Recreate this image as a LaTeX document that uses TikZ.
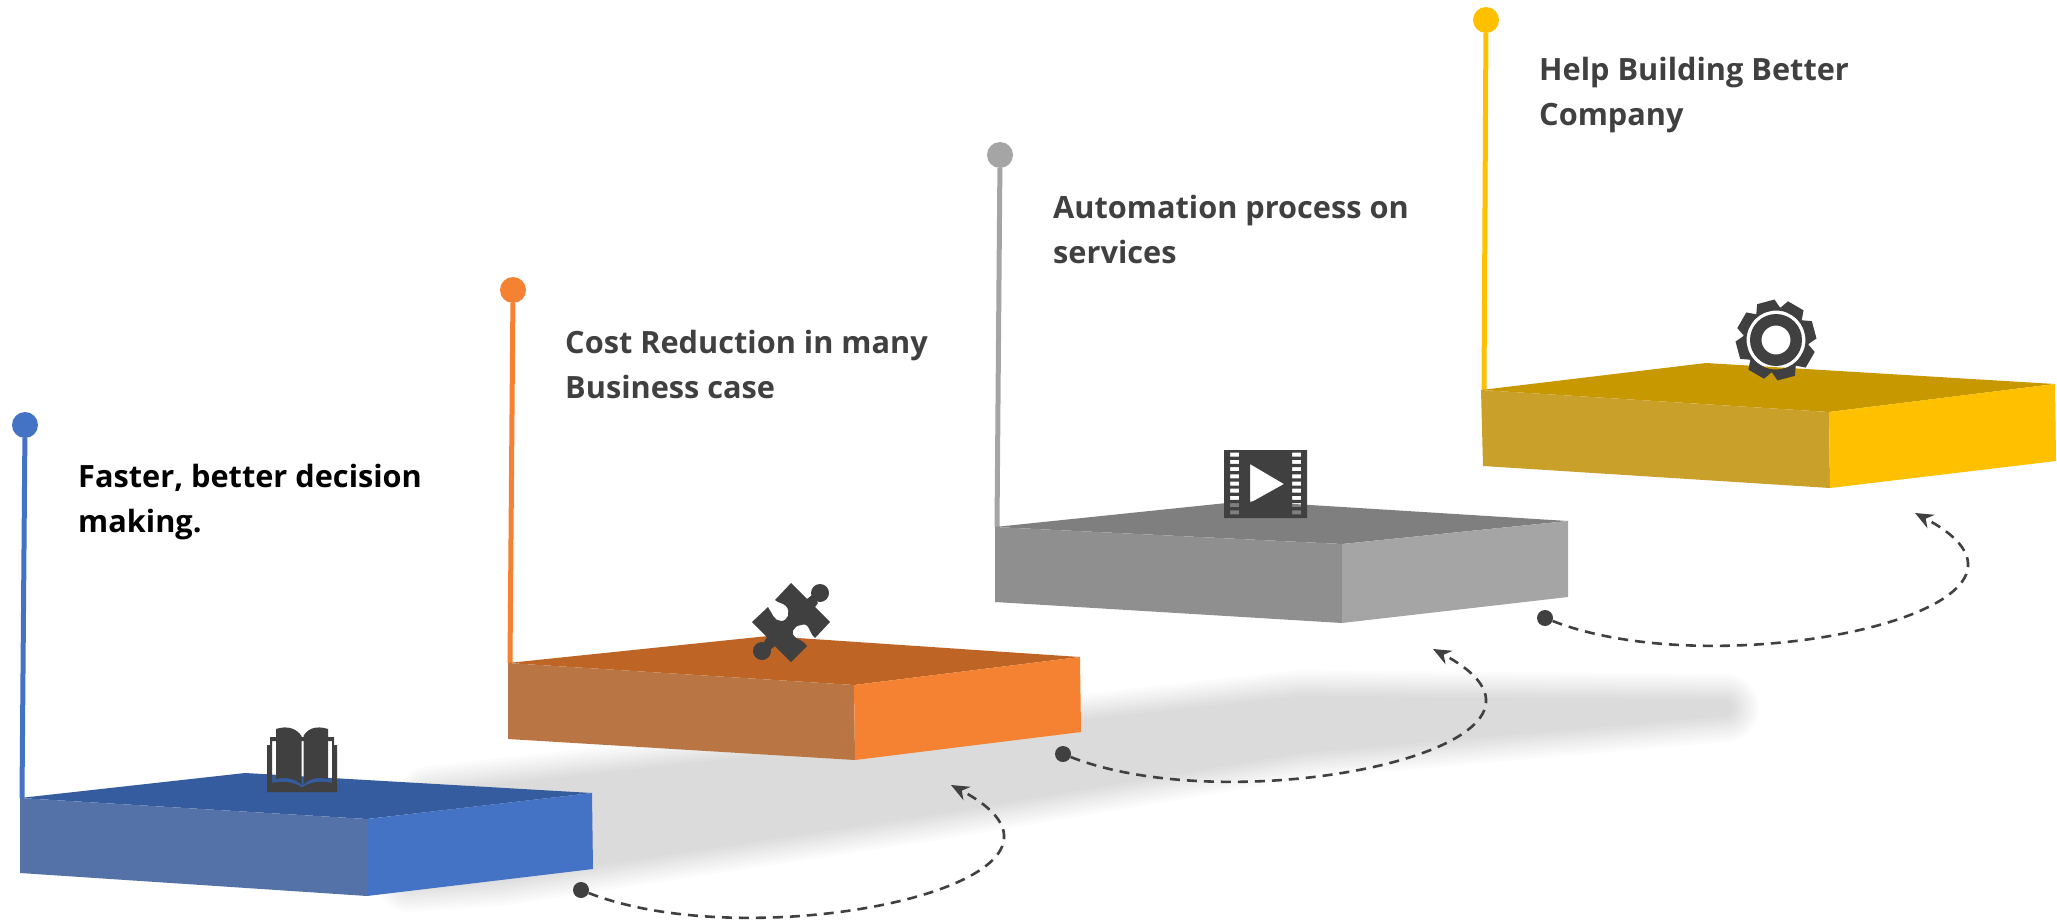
\documentclass[tikz,border=0pt]{standalone}
\usepackage{fontspec}
\setmainfont{Open Sans}
\usetikzlibrary{arrows.meta}
\definecolor{icondark}{HTML}{404040}
\definecolor{bluetop}{HTML}{355C9E}
\definecolor{blueleft}{HTML}{5572A8}
\definecolor{blueright}{HTML}{4472C4}
\definecolor{orangetop}{HTML}{BE6424}
\definecolor{orangeleft}{HTML}{B97544}
\definecolor{orangeright}{HTML}{F58232}
\definecolor{graytop}{HTML}{7F7F7F}
\definecolor{grayleft}{HTML}{8F8F8F}
\definecolor{grayright}{HTML}{A5A5A5}
\definecolor{yellowtop}{HTML}{C89800}
\definecolor{yellowleft}{HTML}{C8A02A}
\definecolor{yellowright}{HTML}{FFC000}
\tikzset{
  pin/.style={circle,fill=#1,minimum size=26pt,inner sep=0pt},
  stem/.style={draw=#1,line width=5pt},
  caption/.style={anchor=west,align=left,inner sep=0pt,text=icondark,
    font=\fontsize{30.7}{45}\selectfont\bfseries},
  startdot/.style={circle,fill=icondark,minimum size=16pt,inner sep=0pt},
  loopline/.style={draw=icondark,line width=2.6pt,dash pattern=on 10pt off 7pt,
    -{Stealth[length=18pt,width=15pt]}},
  icon/.style={fill=icondark,even odd rule}
}
\begin{document}
\begin{tikzpicture}[x=1pt,y=-1pt]
  \useasboundingbox (0,0) rectangle (2057,924);
  % shadow on the floor
  \foreach \s [evaluate=\s as \w using 72-4*\s] in {1,...,14}
    \draw[fill=black!\s,draw=black!\s,line width=\w pt,line join=round]
      (430,800) -- (1083,728) -- (1300,704) -- (1725,708) -- (1300,745) -- (936,806) -- (500,872) -- (410,878) -- cycle;
  % stems and pins
  \coordinate (bluecorner) at (22,798);
  \coordinate (orangecorner) at (510,663);
  \coordinate (graycorner) at (997,527);
  \coordinate (yellowcorner) at (1484,390);
  \node[pin=blueright] (bluepin) at (25,425) {};
  \node[pin=orangeright] (orangepin) at (513,290) {};
  \node[pin=grayright] (graypin) at (1000,155) {};
  \node[pin=yellowright] (yellowpin) at (1486,20) {};
  \draw[stem=blueright] (bluepin) -- (bluecorner);
  \draw[stem=orangeright] (orangepin) -- (orangecorner);
  \draw[stem=grayright] (graypin) -- (graycorner);
  \draw[stem=yellowright] (yellowpin) -- (yellowcorner);
  % blue step
  \fill[bluetop] (20,798) -- (245,773) -- (592,793) -- (367,819) -- cycle;
  \fill[blueleft] (20,798) -- (367,819) -- (367,896) -- (20,873) -- cycle;
  \fill[blueright] (367,819) -- (592,793) -- (593,869) -- (367,896) -- cycle;
  % orange step
  \fill[orangetop] (508,663) -- (768,636) -- (1080,657) -- (854,685) -- cycle;
  \fill[orangeleft] (508,663) -- (854,685) -- (855,760) -- (508,739) -- cycle;
  \fill[orangeright] (854,685) -- (1080,657) -- (1081,732) -- (855,760) -- cycle;
  % gray step
  \fill[graytop] (995,527) -- (1246,501) -- (1568,521) -- (1342,544) -- cycle;
  \fill[grayleft] (995,527) -- (1342,544) -- (1342,623) -- (995,602) -- cycle;
  \fill[grayright] (1342,544) -- (1568,521) -- (1568,597) -- (1342,623) -- cycle;
  % yellow step
  \fill[yellowtop] (1481,390) -- (1706,363) -- (2055,384) -- (1829,412) -- cycle;
  \fill[yellowleft] (1481,390) -- (1829,412) -- (1830,488) -- (1483,466) -- cycle;
  \fill[yellowright] (1829,412) -- (2055,384) -- (2056,461) -- (1830,488) -- cycle;
  % captions
  \node[caption,text=black] (bluetext) at (78,502) {Faster, better decision\\making.};
  \node[caption] (orangetext) at (565,364) {Cost Reduction in many\\Business case};
  \node[caption] (graytext) at (1053,229) {Automation process on\\services};
  \node[caption] (yellowtext) at (1539,95) {Help Building Better\\Company};
  % dashed loops
  \node[startdot] (dotone) at (581,890) {};
  \node[startdot] (dottwo) at (1063,754) {};
  \node[startdot] (dotthree) at (1545,618) {};
  \coordinate (tipone) at (951,785);
  \coordinate (tiptwo) at (1433,649);
  \coordinate (tipthree) at (1915,513);
  \draw[loopline] (dotone) .. controls (760,960) and (1130,880) .. (tipone);
  \draw[loopline] (dottwo) .. controls (1242,824) and (1612,744) .. (tiptwo);
  \draw[loopline] (dotthree) .. controls (1724,688) and (2094,608) .. (tipthree);
  % book
  \fill[icon] (267,792) -- (267,745) -- (270,745) -- (270,737) -- (334,737) -- (334,745) -- (337,745) -- (337,792) -- cycle
    (272,741) -- (332,741) -- (332,783) .. controls (320,780) and (308,783) .. (303,787) -- (301,787) .. controls (296,783) and (284,780) .. (272,783) -- cycle;
  \fill[icondark] (276,729) .. controls (288,725) and (297,729) .. (301.5,736) -- (301.5,785) .. controls (295,778) and (285,777) .. (276,779) -- cycle;
  \fill[icondark] (328,729) .. controls (316,725) and (307,729) .. (303.5,736) -- (303.5,785) .. controls (309,778) and (319,777) .. (328,779) -- cycle;
  % puzzle piece
  \fill[icondark] (791,583) -- (807,599) -- (812,595) -- (818,603) -- (815,607) -- (830,622) -- (815,638)
    .. controls (808,632) and (810,622) .. (801,625) .. controls (793,626) and (790,634) .. (795,637) .. controls (798,640) and (803,640) .. (807,646)
    -- (791,662) -- (775,646) -- (770,650) -- (764,642) -- (767,637) -- (752,622) -- (768,607)
    .. controls (772,613) and (774,621) .. (781,621) .. controls (788,621) and (791,612) .. (786,606) .. controls (783,603) and (778,603) .. (775,600) -- cycle;
  \fill[icondark] (820,593) circle (9);
  \fill[icondark] (762,651) circle (9);
  % film strip
  \fill[icon] (1224,450) rectangle (1307,518)
    foreach \i in {0,...,8} {
      (1230,452.7+7.2*\i) rectangle (1239,456.7+7.2*\i)
      (1292,452.7+7.2*\i) rectangle (1301,456.7+7.2*\i)
    }
    (1250,464) -- (1284,484) -- (1250,503) -- cycle;
  % gear
  \begin{scope}[shift={(1776,340)}]
    \fill[icon] (0,0) circle (33) (0,0) circle (29.5) (0,0) circle (26) (0,0) circle (14.5);
    \foreach \a in {15,60,...,330}
      \fill[icondark,rotate=\a] (31,-12) -- (39.5,-9) -- (39.5,9) -- (31,12) -- (29.5,8) -- (29.5,-8) -- cycle;
  \end{scope}
\end{tikzpicture}
\end{document}
